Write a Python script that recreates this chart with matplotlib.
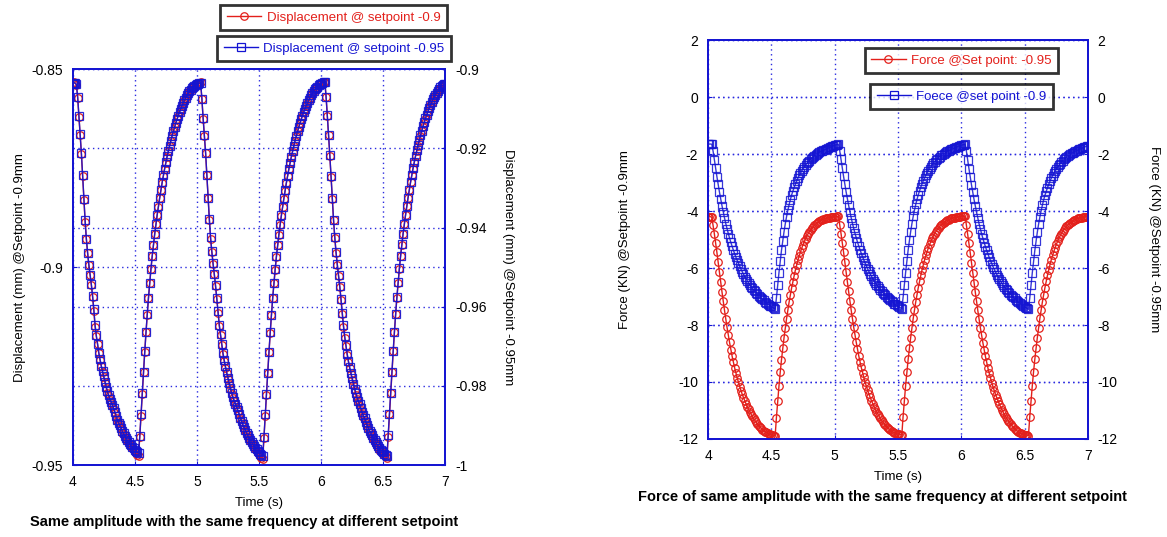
import numpy as np
import matplotlib
matplotlib.use('Agg')
import matplotlib.pyplot as plt
from matplotlib.ticker import FuncFormatter
from matplotlib.lines import Line2D

plt.rcParams['font.family'] = ['Liberation Sans', 'DejaVu Sans']

# time base, 0.01 s sampling from 4 s to 7 s
t = np.round(np.arange(400, 701) / 100.0, 2)

# displacement (mm) @ setpoint -0.9 (left panel, left axis)
disp_sp09 = [
    -0.8535, -0.8533, -0.8536, -0.8540,
    -0.8572, -0.8620, -0.8665, -0.8715, -0.8770, -0.8830, -0.8885, -0.8930, -0.8965, -0.8995,
    -0.9020, -0.9045, -0.9075, -0.9110, -0.9150, -0.9175, -0.9195, -0.9218, -0.9235, -0.9250,
    -0.9265, -0.9278, -0.9292, -0.9305, -0.9318, -0.9325, -0.9335, -0.9342, -0.9350, -0.9358,
    -0.9368, -0.9380, -0.9388, -0.9395, -0.9402, -0.9410, -0.9418, -0.9422, -0.9428, -0.9435,
    -0.9440, -0.9445, -0.9450, -0.9455, -0.9458, -0.9462, -0.9466, -0.9469, -0.9474, -0.9478,
    -0.9430, -0.9375, -0.9320, -0.9266, -0.9214, -0.9165, -0.9120, -0.9078, -0.9040, -0.9005,
    -0.8973, -0.8944, -0.8917, -0.8892, -0.8869, -0.8847, -0.8826, -0.8806, -0.8787, -0.8769,
    -0.8752, -0.8736, -0.8721, -0.8707, -0.8694, -0.8681, -0.8669, -0.8657, -0.8646, -0.8636,
    -0.8626, -0.8617, -0.8608, -0.8600, -0.8592, -0.8585, -0.8578, -0.8572, -0.8566, -0.8561,
    -0.8556, -0.8552, -0.8548, -0.8545, -0.8542, -0.8539, -0.8537, -0.8535, -0.8534, -0.8533,
    -0.8575, -0.8625, -0.8668, -0.8712, -0.8768, -0.8826, -0.8880, -0.8928, -0.8962, -0.8992,
    -0.9018, -0.9048, -0.9080, -0.9115, -0.9148, -0.9172, -0.9196, -0.9220, -0.9238, -0.9254,
    -0.9268, -0.9282, -0.9295, -0.9309, -0.9320, -0.9330, -0.9338, -0.9346, -0.9355, -0.9364,
    -0.9372, -0.9383, -0.9392, -0.9400, -0.9408, -0.9415, -0.9421, -0.9428, -0.9434, -0.9440,
    -0.9445, -0.9450, -0.9455, -0.9460, -0.9465, -0.9469, -0.9473, -0.9477, -0.9481, -0.9485,
    -0.9432, -0.9376, -0.9322, -0.9268, -0.9215, -0.9166, -0.9121, -0.9079, -0.9041, -0.9006,
    -0.8974, -0.8945, -0.8918, -0.8893, -0.8870, -0.8848, -0.8827, -0.8807, -0.8788, -0.8770,
    -0.8753, -0.8737, -0.8722, -0.8708, -0.8694, -0.8681, -0.8669, -0.8657, -0.8646, -0.8636,
    -0.8626, -0.8617, -0.8608, -0.8600, -0.8592, -0.8585, -0.8578, -0.8572, -0.8566, -0.8561,
    -0.8556, -0.8551, -0.8547, -0.8544, -0.8541, -0.8538, -0.8536, -0.8534, -0.8533, -0.8532,
    -0.8570, -0.8618, -0.8667, -0.8718, -0.8772, -0.8828, -0.8882, -0.8926, -0.8963, -0.8994,
    -0.9022, -0.9050, -0.9082, -0.9118, -0.9150, -0.9178, -0.9200, -0.9222, -0.9240, -0.9256,
    -0.9270, -0.9284, -0.9297, -0.9310, -0.9322, -0.9332, -0.9341, -0.9350, -0.9360, -0.9370,
    -0.9378, -0.9386, -0.9394, -0.9402, -0.9410, -0.9417, -0.9423, -0.9429, -0.9435, -0.9441,
    -0.9446, -0.9451, -0.9456, -0.9461, -0.9465, -0.9469, -0.9472, -0.9475, -0.9478, -0.9481,
    -0.9428, -0.9372, -0.9318, -0.9265, -0.9213, -0.9164, -0.9119, -0.9077, -0.9039, -0.9004,
    -0.8972, -0.8943, -0.8916, -0.8891, -0.8868, -0.8846, -0.8825, -0.8805, -0.8786, -0.8768,
    -0.8751, -0.8735, -0.8720, -0.8706, -0.8693, -0.8680, -0.8668, -0.8656, -0.8645, -0.8635,
    -0.8625, -0.8616, -0.8607, -0.8599, -0.8591, -0.8584, -0.8577, -0.8571, -0.8565, -0.8560,
    -0.8555, -0.8551, -0.8547, -0.8544, -0.8541, -0.8539, -0.8537,
]

# displacement (mm) @ setpoint -0.95 (left panel, right axis)
disp_sp095 = [
    -0.9036, -0.9034, -0.9035, -0.9038,
    -0.9070, -0.9117, -0.9163, -0.9212, -0.9268, -0.9327, -0.9382, -0.9428, -0.9463, -0.9494,
    -0.9519, -0.9543, -0.9572, -0.9606, -0.9645, -0.9672, -0.9693, -0.9716, -0.9733, -0.9749,
    -0.9763, -0.9776, -0.9789, -0.9802, -0.9814, -0.9824, -0.9833, -0.9841, -0.9849, -0.9857,
    -0.9866, -0.9876, -0.9885, -0.9893, -0.9900, -0.9907, -0.9914, -0.9920, -0.9926, -0.9932,
    -0.9937, -0.9942, -0.9946, -0.9950, -0.9954, -0.9958, -0.9961, -0.9964, -0.9967, -0.9970,
    -0.9926, -0.9871, -0.9818, -0.9765, -0.9713, -0.9664, -0.9619, -0.9577, -0.9539, -0.9504,
    -0.9472, -0.9443, -0.9416, -0.9391, -0.9368, -0.9346, -0.9325, -0.9305, -0.9286, -0.9268,
    -0.9251, -0.9235, -0.9220, -0.9206, -0.9193, -0.9180, -0.9168, -0.9157, -0.9146, -0.9136,
    -0.9126, -0.9117, -0.9108, -0.9100, -0.9092, -0.9085, -0.9078, -0.9072, -0.9066, -0.9061,
    -0.9056, -0.9052, -0.9048, -0.9045, -0.9042, -0.9039, -0.9037, -0.9036, -0.9035, -0.9034,
    -0.9074, -0.9123, -0.9166, -0.9211, -0.9266, -0.9324, -0.9378, -0.9425, -0.9460, -0.9490,
    -0.9517, -0.9546, -0.9578, -0.9612, -0.9645, -0.9670, -0.9694, -0.9717, -0.9735, -0.9751,
    -0.9766, -0.9780, -0.9793, -0.9806, -0.9818, -0.9828, -0.9837, -0.9845, -0.9853, -0.9862,
    -0.9870, -0.9880, -0.9889, -0.9897, -0.9905, -0.9912, -0.9918, -0.9925, -0.9931, -0.9937,
    -0.9942, -0.9947, -0.9952, -0.9956, -0.9960, -0.9964, -0.9967, -0.9971, -0.9974, -0.9977,
    -0.9928, -0.9872, -0.9820, -0.9767, -0.9714, -0.9665, -0.9620, -0.9578, -0.9540, -0.9505,
    -0.9473, -0.9444, -0.9417, -0.9392, -0.9369, -0.9347, -0.9326, -0.9306, -0.9287, -0.9269,
    -0.9252, -0.9236, -0.9221, -0.9207, -0.9193, -0.9180, -0.9168, -0.9157, -0.9146, -0.9136,
    -0.9126, -0.9117, -0.9108, -0.9100, -0.9092, -0.9085, -0.9078, -0.9072, -0.9066, -0.9061,
    -0.9056, -0.9051, -0.9047, -0.9044, -0.9041, -0.9038, -0.9036, -0.9034, -0.9033, -0.9032,
    -0.9069, -0.9116, -0.9165, -0.9216, -0.9270, -0.9326, -0.9380, -0.9424, -0.9461, -0.9492,
    -0.9520, -0.9548, -0.9580, -0.9615, -0.9647, -0.9675, -0.9697, -0.9719, -0.9737, -0.9753,
    -0.9767, -0.9781, -0.9794, -0.9807, -0.9819, -0.9829, -0.9838, -0.9847, -0.9857, -0.9866,
    -0.9874, -0.9882, -0.9890, -0.9898, -0.9906, -0.9913, -0.9919, -0.9925, -0.9931, -0.9937,
    -0.9942, -0.9947, -0.9952, -0.9957, -0.9961, -0.9965, -0.9968, -0.9971, -0.9974, -0.9977,
    -0.9925, -0.9870, -0.9817, -0.9764, -0.9712, -0.9663, -0.9618, -0.9576, -0.9538, -0.9503,
    -0.9471, -0.9442, -0.9415, -0.9390, -0.9367, -0.9345, -0.9324, -0.9304, -0.9285, -0.9267,
    -0.9250, -0.9234, -0.9219, -0.9205, -0.9192, -0.9179, -0.9167, -0.9155, -0.9144, -0.9134,
    -0.9124, -0.9115, -0.9106, -0.9098, -0.9090, -0.9083, -0.9076, -0.9070, -0.9064, -0.9059,
    -0.9054, -0.9050, -0.9046, -0.9043, -0.9040, -0.9038, -0.9036,
]

# force (KN) @ set point -0.95 (right panel, right axis)
force_sp095 = [
    -4.21, -4.20, -4.20, -4.22,
    -4.50, -4.80, -5.12, -5.45, -5.80, -6.15, -6.50, -6.83, -7.16, -7.48,
    -7.79, -8.08, -8.35, -8.61, -8.86, -9.09, -9.30, -9.50, -9.68, -9.85,
    -10.01, -10.16, -10.30, -10.43, -10.55, -10.66, -10.77, -10.87, -10.96, -11.05,
    -11.13, -11.21, -11.28, -11.35, -11.41, -11.47, -11.53, -11.58, -11.63, -11.67,
    -11.71, -11.74, -11.77, -11.80, -11.82, -11.84, -11.86, -11.87, -11.88, -11.89,
    -11.25, -10.68, -10.15, -9.66, -9.22, -8.82, -8.45, -8.10, -7.78, -7.48,
    -7.20, -6.94, -6.70, -6.48, -6.27, -6.07, -5.89, -5.72, -5.57, -5.43,
    -5.30, -5.18, -5.07, -4.97, -4.88, -4.80, -4.73, -4.66, -4.60, -4.55,
    -4.50, -4.46, -4.42, -4.39, -4.36, -4.33, -4.31, -4.29, -4.27, -4.26,
    -4.25, -4.24, -4.23, -4.22, -4.21, -4.21, -4.20, -4.20, -4.19, -4.19,
    -4.48, -4.79, -5.11, -5.44, -5.79, -6.14, -6.49, -6.82, -7.15, -7.47,
    -7.78, -8.07, -8.34, -8.60, -8.85, -9.08, -9.29, -9.49, -9.67, -9.84,
    -10.00, -10.15, -10.29, -10.42, -10.54, -10.65, -10.76, -10.86, -10.95, -11.04,
    -11.12, -11.20, -11.27, -11.34, -11.40, -11.46, -11.52, -11.57, -11.62, -11.66,
    -11.70, -11.73, -11.76, -11.78, -11.80, -11.82, -11.83, -11.84, -11.85, -11.86,
    -11.22, -10.66, -10.13, -9.65, -9.21, -8.81, -8.44, -8.09, -7.77, -7.47,
    -7.19, -6.93, -6.69, -6.47, -6.26, -6.06, -5.88, -5.71, -5.56, -5.42,
    -5.29, -5.17, -5.06, -4.96, -4.87, -4.79, -4.72, -4.65, -4.59, -4.54,
    -4.49, -4.45, -4.41, -4.38, -4.35, -4.32, -4.30, -4.28, -4.26, -4.25,
    -4.24, -4.23, -4.22, -4.21, -4.20, -4.20, -4.19, -4.19, -4.18, -4.18,
    -4.50, -4.81, -5.13, -5.46, -5.81, -6.16, -6.51, -6.84, -7.17, -7.49,
    -7.80, -8.09, -8.36, -8.62, -8.87, -9.10, -9.31, -9.51, -9.69, -9.86,
    -10.02, -10.17, -10.31, -10.44, -10.56, -10.67, -10.78, -10.88, -10.97, -11.06,
    -11.14, -11.22, -11.29, -11.36, -11.42, -11.48, -11.54, -11.59, -11.64, -11.68,
    -11.72, -11.75, -11.78, -11.80, -11.82, -11.84, -11.85, -11.86, -11.87, -11.88,
    -11.24, -10.67, -10.14, -9.65, -9.21, -8.81, -8.44, -8.09, -7.77, -7.47,
    -7.19, -6.93, -6.69, -6.47, -6.26, -6.06, -5.88, -5.71, -5.56, -5.42,
    -5.29, -5.17, -5.06, -4.96, -4.87, -4.79, -4.72, -4.65, -4.59, -4.54,
    -4.49, -4.45, -4.41, -4.38, -4.35, -4.32, -4.30, -4.28, -4.26, -4.25,
    -4.24, -4.23, -4.22, -4.21, -4.21, -4.20, -4.20,
]

# force (KN) @ set point -0.9 (right panel, left axis)
force_sp09 = [
    -1.66, -1.65, -1.65, -1.66,
    -1.90, -2.20, -2.50, -2.79, -3.07, -3.33, -3.58, -3.81, -4.03, -4.24,
    -4.44, -4.62, -4.79, -4.95, -5.10, -5.24, -5.37, -5.50, -5.62, -5.73,
    -5.84, -5.94, -6.04, -6.13, -6.22, -6.30, -6.38, -6.45, -6.52, -6.59,
    -6.65, -6.71, -6.77, -6.82, -6.87, -6.92, -6.97, -7.02, -7.06, -7.10,
    -7.14, -7.18, -7.22, -7.26, -7.29, -7.32, -7.35, -7.38, -7.41, -7.44,
    -7.05, -6.60, -6.17, -5.76, -5.38, -5.04, -4.73, -4.45, -4.20, -3.98,
    -3.78, -3.60, -3.44, -3.30, -3.17, -3.05, -2.94, -2.84, -2.75, -2.67,
    -2.59, -2.52, -2.45, -2.39, -2.33, -2.28, -2.23, -2.18, -2.14, -2.10,
    -2.06, -2.03, -2.00, -1.97, -1.94, -1.91, -1.89, -1.87, -1.85, -1.83,
    -1.81, -1.79, -1.77, -1.75, -1.73, -1.71, -1.70, -1.68, -1.67, -1.66,
    -1.89, -2.19, -2.49, -2.78, -3.06, -3.32, -3.57, -3.80, -4.02, -4.23,
    -4.43, -4.61, -4.78, -4.94, -5.09, -5.23, -5.36, -5.49, -5.61, -5.72,
    -5.83, -5.93, -6.03, -6.12, -6.21, -6.29, -6.37, -6.44, -6.51, -6.58,
    -6.64, -6.70, -6.76, -6.81, -6.86, -6.91, -6.96, -7.01, -7.05, -7.09,
    -7.13, -7.17, -7.21, -7.25, -7.28, -7.31, -7.34, -7.37, -7.40, -7.43,
    -7.04, -6.59, -6.16, -5.75, -5.37, -5.03, -4.72, -4.44, -4.19, -3.97,
    -3.77, -3.59, -3.43, -3.29, -3.16, -3.04, -2.93, -2.83, -2.74, -2.66,
    -2.58, -2.51, -2.44, -2.38, -2.32, -2.27, -2.22, -2.17, -2.13, -2.09,
    -2.05, -2.02, -1.99, -1.96, -1.93, -1.90, -1.88, -1.86, -1.84, -1.82,
    -1.80, -1.78, -1.76, -1.74, -1.72, -1.71, -1.69, -1.68, -1.67, -1.66,
    -1.90, -2.21, -2.51, -2.80, -3.08, -3.34, -3.59, -3.82, -4.04, -4.25,
    -4.45, -4.63, -4.80, -4.96, -5.11, -5.25, -5.38, -5.51, -5.63, -5.74,
    -5.85, -5.95, -6.05, -6.14, -6.23, -6.31, -6.39, -6.46, -6.53, -6.60,
    -6.66, -6.72, -6.78, -6.83, -6.88, -6.93, -6.98, -7.03, -7.07, -7.11,
    -7.15, -7.19, -7.23, -7.27, -7.30, -7.33, -7.36, -7.39, -7.42, -7.45,
    -7.06, -6.61, -6.18, -5.77, -5.39, -5.05, -4.74, -4.46, -4.21, -3.99,
    -3.79, -3.61, -3.45, -3.31, -3.18, -3.06, -2.95, -2.85, -2.76, -2.68,
    -2.60, -2.53, -2.46, -2.40, -2.34, -2.29, -2.24, -2.19, -2.15, -2.11,
    -2.07, -2.04, -2.01, -1.98, -1.95, -1.92, -1.90, -1.88, -1.86, -1.84,
    -1.82, -1.80, -1.78, -1.76, -1.74, -1.72, -1.71,
]

x_ticks = [4, 4.5, 5, 5.5, 6, 6.5, 7]
disp_left_ticks = [-0.95, -0.9, -0.85]
disp_right_ticks = [-1.0, -0.98, -0.96, -0.94, -0.92, -0.9]
force_ticks = [-12, -10, -8, -6, -4, -2, 0, 2]

RED = '#e3201b'
BLUE = '#1414d2'
GRID = '#2a2ae0'
MS = 5.4

fmt = FuncFormatter(lambda v, p: '%g' % v)

fig = plt.figure(figsize=(11.67, 5.37), dpi=100)


def style_axes(ax):
    for s in ax.spines.values():
        s.set_color(BLUE)
        s.set_linewidth(1.3)
    ax.tick_params(axis='both', which='both', direction='in', length=3,
                   color=BLUE, labelsize=10, pad=7)
    ax.grid(True, color=GRID, linestyle=(0, (1, 2.5)), linewidth=1.0)


# ---------------- left panel: displacement ----------------
axL = fig.add_axes([0.0623, 0.134, 0.3193, 0.737])
axL2 = axL.twinx()
l1, = axL.plot(t, disp_sp09, color=RED, lw=1.0, marker='o', ms=MS,
               mfc='none', mec=RED, mew=0.9)
l2, = axL2.plot(t, disp_sp095, color=BLUE, lw=1.0, marker='s', ms=MS,
                mfc='none', mec=BLUE, mew=0.9, alpha=0.9)
axL.set_xlim(4, 7)
axL.set_ylim(-0.95, -0.85)
axL2.set_ylim(-1.0, -0.9)
axL.set_xticks(x_ticks)
axL.set_yticks(disp_left_ticks)
axL2.set_yticks(disp_right_ticks)
axL.yaxis.set_major_formatter(fmt)
axL2.yaxis.set_major_formatter(fmt)
axL.xaxis.set_major_formatter(fmt)
style_axes(axL)
style_axes(axL2)
axL.set_xlabel('Time (s)', fontsize=9.5, labelpad=6)
axL.set_ylabel('Displacement (mm) @Setpoint -0.9mm', fontsize=9.5, labelpad=4)
axL2.set_ylabel('Displacement (mm) @Setpoint -0.95mm', fontsize=9.5,
                rotation=270, labelpad=20)

# ---------------- right panel: force ----------------
axR = fig.add_axes([0.6067, 0.1825, 0.3256, 0.743])
axR2 = axR.twinx()
r2, = axR.plot(t, force_sp09, color=BLUE, lw=1.0, marker='s', ms=MS,
               mfc='none', mec=BLUE, mew=0.9, alpha=0.85)
r1, = axR2.plot(t, force_sp095, color=RED, lw=1.0, marker='o', ms=MS,
                mfc='none', mec=RED, mew=0.9)
for a in (axR, axR2):
    a.set_ylim(-12, 2)
    a.set_yticks(force_ticks)
    a.yaxis.set_major_formatter(fmt)
    style_axes(a)
axR.set_xlim(4, 7)
axR.set_xticks(x_ticks)
axR.xaxis.set_major_formatter(fmt)
axR.set_xlabel('Time (s)', fontsize=9.5, labelpad=6)
axR.set_ylabel('Force (KN) @Setpoint -0.9mm', fontsize=9.5, labelpad=34)
axR2.set_ylabel('Force (KN) @Setpoint -0.95mm', fontsize=9.5,
                rotation=270, labelpad=30)

# legends, each entry in its own box
def box_legend(handle, label, anchor, color):
    h = Line2D([], [], color=handle.get_color(), lw=1.0, marker=handle.get_marker(),
               ms=MS, mfc='none', mec=handle.get_color(), mew=0.9)
    lg = fig.legend([h], [label], loc='upper right', bbox_to_anchor=anchor,
                    fontsize=9.5, frameon=True, fancybox=False, shadow=False,
                    handlelength=2.6, handletextpad=0.4, borderpad=0.5,
                    borderaxespad=0)
    lg.get_frame().set_edgecolor('black')
    lg.get_frame().set_linewidth(2.0)
    for txt in lg.get_texts():
        txt.set_color(color)
    return lg

box_legend(l1, 'Displacement @ setpoint -0.9', (0.383, 0.9907), RED)
box_legend(l2, 'Displacement @ setpoint -0.95', (0.3865, 0.933), BLUE)
box_legend(r1, 'Force @Set point: -0.95', (0.9066, 0.9106), RED)
box_legend(r2, 'Foece @set point -0.9', (0.9023, 0.8436), BLUE)

# captions
fig.text(244 / 1167, 1 - 522 / 537, 'Same amplitude with the same frequency at different setpoint',
         ha='center', va='center', fontsize=10.5, fontweight='bold')
fig.text(882 / 1167, 1 - 497 / 537, 'Force of same amplitude with the same frequency at different setpoint',
         ha='center', va='center', fontsize=10.5, fontweight='bold')

fig.savefig('out.png', dpi=100)
